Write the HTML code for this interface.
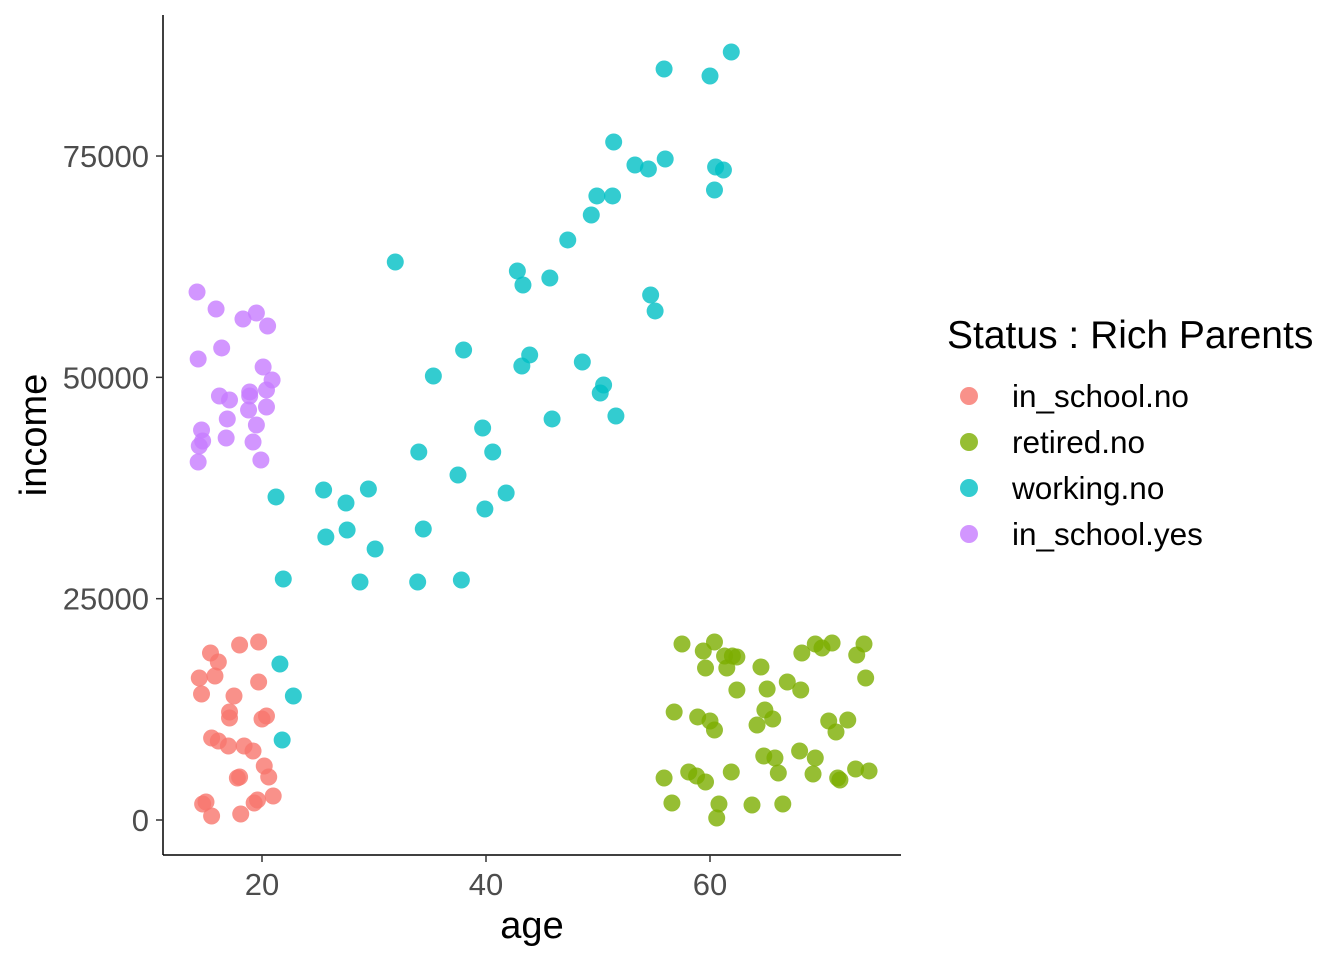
<!DOCTYPE html>
<html><head><meta charset="utf-8"><style>
html,body{margin:0;padding:0;background:#fff;}
svg{display:block;font-family:"Liberation Sans",Arial,sans-serif;}
</style></head><body>
<svg id="chart" width="1344" height="960" viewBox="0 0 1344 960">
<g id="plot"></g>
<line x1="163" y1="15" x2="163" y2="855" stroke="#000" stroke-width="1.5"/>
<line x1="163" y1="855" x2="901" y2="855" stroke="#000" stroke-width="1.5"/>
<g id="axes"></g>
<text x="532" y="938" font-size="38" text-anchor="middle" fill="#000">age</text>
<text x="0" y="0" font-size="38" text-anchor="middle" fill="#000" transform="translate(46,435) rotate(-90)">income</text>
<g id="legend">
<text x="947" y="348" font-size="39" fill="#000">Status : Rich Parents</text>
</g>
</svg>
<script>
const xTicks=[20,40,60];
const yTicks=[0,25000,50000,75000];
const groups=["in_school.no","retired.no","working.no","in_school.yes"];
const colors=["#F8766D","#7CAE00","#00BFC4","#C77CFF"];
const redAge=[14.4,15.4,16.1,14.6,15.8,18.0,19.7,19.7,17.5,17.1,17.1,20.4,20.0,15.5,16.1,17.0,18.4,19.2,20.2,17.8,18.0,20.6,21.0,15.0,14.7,19.6,19.3,15.5,18.1];
const redInc=[16040,18860,17850,14230,16270,19770,20110,15590,14010,12200,11520,11750,11410,9260,8920,8360,8360,7790,6100,4740,4860,4860,2710,2030,1810,2260,1920,450,680];
const greenAge=[57.5,60.4,59.4,62.0,62.4,61.3,59.6,61.5,64.55,70.9,69.4,73.75,70.0,68.2,73.1,66.9,68.1,65.1,62.4,73.9,56.8,58.9,60.0,60.4,64.9,65.6,64.2,70.6,72.3,71.25,64.8,65.8,68.0,69.4,55.9,58.1,58.8,59.6,61.9,66.1,69.2,71.4,71.6,73.0,74.2,56.6,60.8,63.75,66.5,60.6];
const greenInc=[19880,20110,19090,18520,18410,18520,17170,17170,17280,19990,19880,19880,19430,18860,18640,15590,14680,14800,14680,16040,12200,11640,11180,10170,12430,11410,10730,11180,11300,9940,7230,7000,7790,7000,4740,5420,4970,4290,5420,5310,5200,4740,4520,5760,5540,1920,1810,1690,1810,230];
const cyanAge=[61.9,55.9,60.0,51.4,53.3,54.5,56.0,60.5,61.2,60.4,49.9,51.3,49.4,47.3,31.9,42.8,45.7,43.3,54.7,55.1,38.0,43.9,48.6,43.2,35.3,50.5,50.2,51.6,45.9,39.7,34.0,40.6,37.5,21.25,41.8,25.5,29.5,27.5,39.9,34.4,27.6,25.7,30.1,21.9,28.75,33.9,37.8,21.6,22.8,21.8];
const cyanInc=[86750,84830,84040,76580,73990,73540,74660,73760,73420,71160,70490,70490,68340,65520,63030,62010,61220,60430,59300,57500,53090,52530,51730,51280,50150,49140,48230,45630,45300,44280,41570,41570,38970,36490,36940,37280,37390,35810,35130,32870,32760,31970,30610,27220,26880,26880,27110,17620,14010,9040];
const purpleAge=[14.2,15.9,18.3,19.5,20.5,16.4,14.3,20.1,20.9,18.9,20.4,16.2,17.1,18.9,18.8,20.4,16.9,19.5,14.6,14.7,16.8,19.2,14.4,19.9,14.3];
const purpleInc=[59640,57720,56590,57270,55800,53320,52070,51170,49700,48350,48570,47890,47440,47890,46310,46650,45300,44620,44050,42810,43150,42700,42250,40660,40440];

const NS="http://www.w3.org/2000/svg";
const xs=a=>262+(a-20)*11.2;
const ys=v=>820-v*0.008853;
function mk(tag,attrs,parent){const e=document.createElementNS(NS,tag);for(const k in attrs)e.setAttribute(k,attrs[k]);parent.appendChild(e);return e;}
const plot=document.getElementById('plot'),axes=document.getElementById('axes'),legend=document.getElementById('legend');
const series=[[redAge,redInc],[greenAge,greenInc],[cyanAge,cyanInc],[purpleAge,purpleInc]];
series.forEach((s,gi)=>{
  s[0].forEach((a,i)=>{
    const c=mk('circle',{cx:xs(a),cy:ys(s[1][i]),r:8.5,fill:colors[gi],'fill-opacity':0.8},plot);
    
    
  });
});
xTicks.forEach(t=>{
  const l=mk('line',{x1:xs(t),x2:xs(t),y1:855,y2:862,stroke:'#333','stroke-width':1.5},axes);
  
  
  const tx=mk('text',{x:xs(t),y:895,'font-size':31,'text-anchor':'middle',fill:'#4d4d4d'},axes);
  tx.textContent=t;
  
  
});
yTicks.forEach(t=>{
  const l=mk('line',{x1:156,x2:163,y1:ys(t),y2:ys(t),stroke:'#333','stroke-width':1.5},axes);
  
  
  const tx=mk('text',{x:149,y:ys(t)+11,'font-size':31,'text-anchor':'end',fill:'#4d4d4d'},axes);
  tx.textContent=t;
  
  
});
groups.forEach((g,i)=>{
  const y=396+i*46;
  const c=mk('circle',{cx:969,cy:y,r:9,fill:colors[i],'fill-opacity':0.8},legend);
  
  
  const t=mk('text',{x:1012,y:y+11,'font-size':31.5,fill:'#000'},legend);
  t.textContent=g;
  
  
});
</script>
</body></html>
